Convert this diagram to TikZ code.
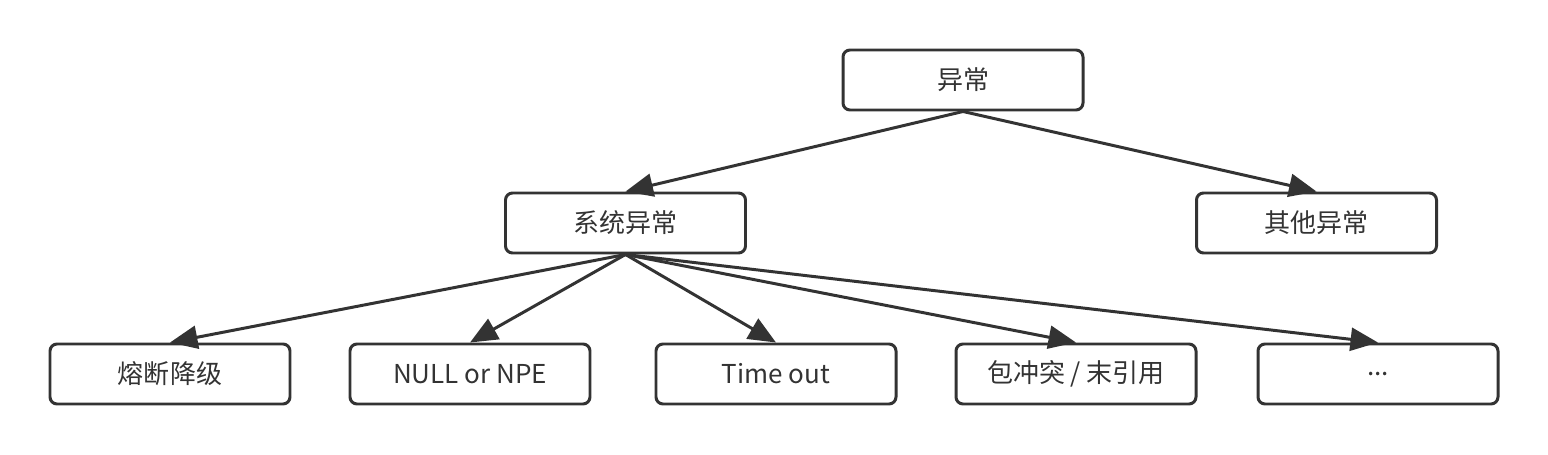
\documentclass[tikz,border=0pt]{standalone}
\usepackage{fontspec}
\setmainfont{Noto Sans CJK SC}
\usetikzlibrary{arrows.meta}
\definecolor{linegray}{HTML}{333333}
\tikzset{
    box/.style={draw=linegray, line width=1.7pt, rounded corners=4pt, minimum width=4.8cm, minimum height=1.2cm, text=linegray, font=\fontsize{14.8}{17}\selectfont},
    link/.style={draw=linegray, line width=1.7pt, -{Triangle[length=0.55cm, width=0.46cm]}}
}
\begin{document}
\begin{tikzpicture}
        \useasboundingbox (0,0) rectangle (30.96,9.08);

        \node[box] (err) at (19.26,7.48) {异常};
        \node[box] (sys) at (12.51,4.62) {系统异常};
        \node[box] (other) at (26.33,4.62) {其他异常};

        \node[box] (fuse) at (3.40,1.60) {熔断降级};
        \node[box] (npe) at (9.40,1.60) {NULL or NPE};
        \node[box] (timeout) at (15.52,1.60) {Time out};
        \node[box] (pkg) at (21.52,1.60) {包冲突 / 末引用};
        \node[box] (more) at (27.56,1.60) {...};

        \draw [link] (err.south) -- (sys.north);
        \draw [link] (err.south) -- (other.north);
        \foreach \i in {fuse,npe,timeout,pkg,more} {
            \draw [link] (sys.south) -- (\i.north);
        }
    \end{tikzpicture}
\end{document}
